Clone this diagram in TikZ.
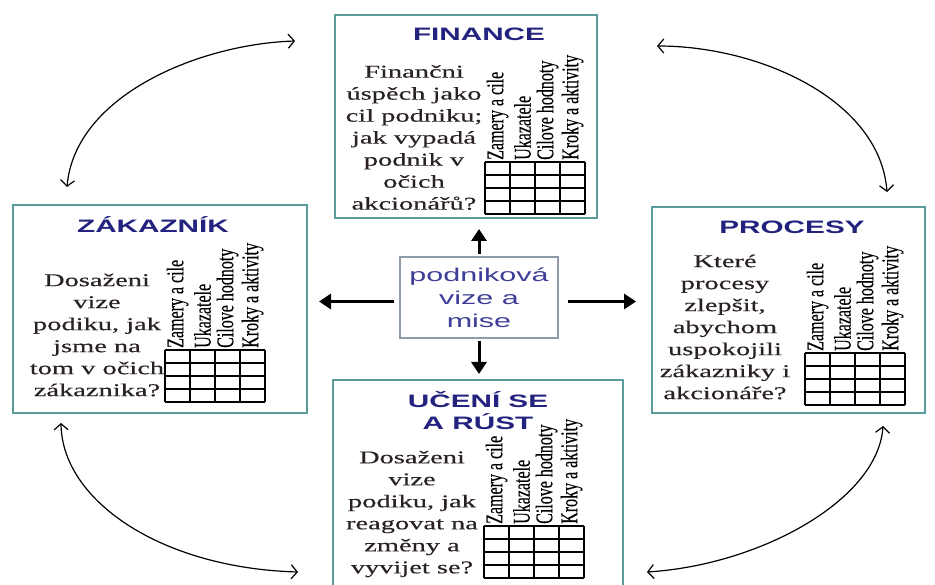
\documentclass[tikz,border=0pt]{standalone}
\usepackage{fontspec}
\setmainfont{Liberation Serif}
\newfontfamily\bodyfont[FakeStretch=1.58,FakeBold=0.4]{Liberation Serif}
\newfontfamily\titlefont[FakeStretch=1.65]{Liberation Sans}
\newfontfamily\labelfont[FakeBold=0.3]{Liberation Serif}
\usetikzlibrary{arrows.meta}
\definecolor{boxteal}{HTML}{5A9C9C}
\definecolor{titleblue}{HTML}{23237F}
\definecolor{centerblue}{HTML}{3E3E98}
\definecolor{centerframe}{HTML}{8E9CAA}
\definecolor{bodyink}{HTML}{2A2222}
\tikzset{
  panel/.style={draw=boxteal, line width=2pt, fill=white, inner sep=0pt},
  paneltitle/.style={font=\titlefont\bfseries\fontsize{18}{22}\selectfont, text=titleblue, align=center, inner sep=0pt},
  paneltext/.style={font=\bodyfont\fontsize{18}{22}\selectfont, text=bodyink, align=center, inner sep=0pt},
  collabel/.style={font=\labelfont\fontsize{16}{16}\selectfont, rotate=90, anchor=west, inner sep=0pt},
  gridline/.style={line width=1.3pt, black},
  bigarrow/.style={line width=3pt, -{Triangle[length=12pt,width=15pt]}},
  cyclearrow/.style={line width=1.2pt, {Straight Barb[length=6pt,width=14pt]}-{Straight Barb[length=6pt,width=14pt]}},
}
\newcommand\tallrot[1]{\scalebox{1}[1.5]{#1}}
\newcommand\bscgrid[3]{%
  \foreach \i in {0,...,4} \draw[gridline] (#2+25*\i,#3) -- (#2+25*\i,#3+52);
  \foreach \j in {0,...,4} \draw[gridline] (#2,#3+13*\j) -- (#2+100,#3+13*\j);
  \node[collabel] (#1a) at (#2+12.5,#3-2) {\tallrot{Zamery a cile}};
  \node[collabel] (#1b) at (#2+37.5,#3-2) {\tallrot{Ukazatele}};
  \node[collabel] (#1c) at (#2+62.5,#3-2) {\tallrot{Cilove hodnoty}};
  \node[collabel] (#1d) at (#2+87.5,#3-2) {\tallrot{Kroky a aktivity}};
}
\begin{document}
\begin{tikzpicture}[x=1pt,y=-1pt]
\useasboundingbox[fill=white] (0,0) rectangle (935,585);

% panels
\node[panel, minimum width=262pt, minimum height=203pt] (fin) at (466,116.5) {};
\node[panel, minimum width=294pt, minimum height=208pt] (zak) at (160,309) {};
\node[panel, minimum width=273pt, minimum height=206pt] (pro) at (788.5,310) {};
\node[panel, minimum width=290pt, minimum height=212pt] (uce) at (478,486) {};

% titles
\node[paneltitle] (fint) at (479,34) {FINANCE};
\node[paneltitle] (zakt) at (153,225) {ZÁKAZNÍK};
\node[paneltitle] (prot) at (792,227) {PROCESY};
\node[paneltitle] (ucet) at (478,411) {UČENÍ SE\\A RÚST};

% body texts
\node[paneltext] (finx) at (414,137.5) {Finančni\\úspěch jako\\cil podniku;\\jak vypadá\\podnik v\\očich\\akcionářů?};
\node[paneltext] (zakx) at (97,335) {Dosaženi\\vize\\podiku, jak\\jsme na\\tom v očich\\zákaznika?};
\node[paneltext] (prox) at (725,327) {Které\\procesy\\zlepšit,\\abychom\\uspokojili\\zákazniky i\\akcionáře?};
\node[paneltext] (ucex) at (412,514) {Dosaženi\\vize\\podiku, jak\\reagovat na\\změny a\\vyvijet se?};

% grids with column labels
\bscgrid{fing}{485}{162}
\bscgrid{zakg}{165}{350}
\bscgrid{prog}{805}{353}
\bscgrid{uceg}{484}{526}

% centre
\node[draw=centerframe, line width=1.2pt, fill=white, minimum width=158pt, minimum height=81pt, inner sep=0pt,
      font=\titlefont\fontsize{18.5}{23}\selectfont, text=centerblue, align=center] (cen) at (479,297.5) {podniková\\vize a\\mise};

\draw[bigarrow, shorten <=2pt, shorten >=10pt] (cen.north) -- (cen.north |- fin.south);
\draw[bigarrow, shorten <=2pt, shorten >=5pt] (cen.south) -- (cen.south |- uce.north);
\draw[bigarrow, shorten <=5pt, shorten >=11pt] ([yshift=-4pt]cen.west) -- ([yshift=-4pt]cen.west -| zak.east);
\draw[bigarrow, shorten <=9pt, shorten >=15pt] ([yshift=-4pt]cen.east) -- ([yshift=-4pt]cen.east -| pro.west);

% cycle arrows
\coordinate (c1a) at (295,41);
\coordinate (c1b) at (67,187);
\coordinate (c2a) at (657,46);
\coordinate (c2b) at (887,192);
\coordinate (c3a) at (61,423);
\coordinate (c3b) at (298,572);
\coordinate (c4a) at (883,426);
\coordinate (c4b) at (647,572);
\draw[cyclearrow] (c1a) .. controls (200,44) and (75,95) .. (c1b);
\draw[cyclearrow] (c2a) .. controls (760,46) and (880,100) .. (c2b);
\draw[cyclearrow] (c3a) .. controls (62,500) and (160,568) .. (c3b);
\draw[cyclearrow] (c4a) .. controls (878,500) and (760,565) .. (c4b);
\end{tikzpicture}
\end{document}
